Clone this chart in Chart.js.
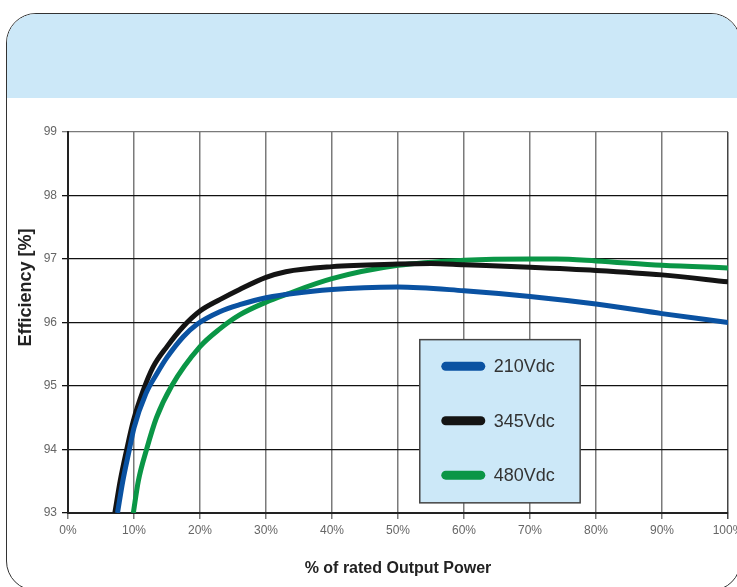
<!DOCTYPE html>
<html>
<head>
<meta charset="utf-8">
<script src="https://cdn.jsdelivr.net/npm/chart.js@4/dist/chart.umd.min.js"></script>
<style>
  html, body { margin: 0; padding: 0; width: 737px; height: 587px; overflow: hidden; background: #fff; }
  #frame {
    position: absolute; left: 6px; top: 13px; width: 735px; height: 578px;
    border: 1.5px solid #333; border-radius: 30px; overflow: hidden; box-sizing: border-box;
  }
  #band { height: 84px; background: #cce8f8; }
  #chart { position: absolute; left: 0; top: 0; }
</style>
</head>
<body>
<div id="frame"><div id="band"></div></div>
<canvas id="chart" width="760" height="587"></canvas>
<script>
// % of rated output power vs efficiency
const seriesLabels = ["210Vdc", "345Vdc", "480Vdc"];
const seriesColors = ["#0a52a2", "#141414", "#0a9646"];

const power210 = [7.5, 8.3, 9.3, 10, 11.8, 13.5, 15, 17.5, 19.5, 23, 26, 30, 40, 50, 60, 70, 80, 90, 100];
const eff210 = [93.0, 93.5, 94.0, 94.34, 94.88, 95.2, 95.45, 95.78, 95.97, 96.17, 96.28, 96.39, 96.52, 96.56, 96.5, 96.41, 96.29, 96.14, 96.0];

const power345 = [7.1, 7.9, 8.9, 9.9, 11.4, 12.9, 15, 17.5, 20, 23, 26, 30, 33, 40, 50, 55, 60, 70, 80, 90, 100];
const eff345 = [93.0, 93.5, 94.0, 94.45, 94.93, 95.3, 95.62, 95.94, 96.18, 96.36, 96.52, 96.71, 96.8, 96.88, 96.92, 96.93, 96.91, 96.87, 96.82, 96.75, 96.64];

const power480 = [9.9, 10.65, 11.9, 13.4, 15.7, 20, 23, 26, 30, 33, 40, 50, 60, 70, 74, 80, 90, 100];
const eff480 = [93.0, 93.5, 94.0, 94.5, 95.0, 95.62, 95.9, 96.12, 96.32, 96.44, 96.69, 96.9, 96.98, 97.0, 97.0, 96.97, 96.9, 96.86];

const xTicksMin = 0, xTicksMax = 100, xStep = 10;
const yTicksMin = 93, yTicksMax = 99, yStep = 1;

function toPoints(xs, ys) {
  return xs.map(function (x, i) {
    return { x: x, y: ys[i] };
  });
}

const allPower = [power210, power345, power480];
const allEff = [eff210, eff345, eff480];

const datasets = seriesLabels.map(function (label, i) {
  return {
    label: label,
    data: toPoints(allPower[i], allEff[i]),
    borderColor: seriesColors[i],
    backgroundColor: seriesColors[i],
    borderWidth: 5,
    pointRadius: 0,
    fill: false,
    cubicInterpolationMode: "monotone",
  };
});

// legend drawn as a box inside the plot, like the original
const boxLegend = {
  id: "boxLegend",
  afterDraw(chart) {
    const ctx = chart.ctx;
    const xs = chart.scales.x;
    const ys = chart.scales.y;
    const left = xs.getPixelForValue(53.3);
    const right = xs.getPixelForValue(77.6);
    const top = ys.getPixelForValue(95.73);
    const bottom = ys.getPixelForValue(93.16);
    ctx.save();
    ctx.fillStyle = "#cce8f8";
    ctx.fillRect(left, top, right - left, bottom - top);
    ctx.strokeStyle = "#444";
    ctx.lineWidth = 1.5;
    ctx.strokeRect(left, top, right - left, bottom - top);
    const rowGap = (bottom - top) / 3;
    chart.data.datasets.forEach(function (ds, i) {
      const cy = top + rowGap * (i + 0.5) - 0.5;
      ctx.beginPath();
      ctx.lineCap = "round";
      ctx.lineWidth = 9;
      ctx.strokeStyle = ds.borderColor;
      ctx.moveTo(left + 26, cy);
      ctx.lineTo(left + 61, cy);
      ctx.stroke();
      ctx.fillStyle = "#333";
      ctx.font = "18px 'Liberation Sans', Arial, sans-serif";
      ctx.textBaseline = "middle";
      ctx.textAlign = "left";
      ctx.fillText(ds.label, left + 74, cy + 1);
    });
    ctx.restore();
  },
};

const chart = new Chart(document.getElementById("chart"), {
  type: "line",
  data: { datasets: datasets },
  plugins: [boxLegend],
  options: {
    responsive: false,
    animation: false,
    layout: { padding: { top: 132, left: 0, right: 32, bottom: 0 } },
    plugins: {
      legend: { display: false },
      tooltip: { enabled: false },
    },
    scales: {
      x: {
        type: "linear",
        min: xTicksMin,
        max: xTicksMax,
        afterFit: function (scale) {
          scale.height = 74;
        },
        ticks: {
          stepSize: xStep,
          padding: 4,
          color: "#666",
          font: { family: "'Liberation Sans', Arial, sans-serif", size: 12 },
          callback: function (v) {
            return v + "%";
          },
          maxRotation: 0,
        },
        grid: {
          color: function (c) {
            return c.tick && c.tick.value === xTicksMax ? "#444" : "#7a7a7a";
          },
          lineWidth: 1.5,
          tickLength: 6,
        },
        border: { color: "#222", width: 2 },
        title: {
          display: true,
          text: "% of rated Output Power",
          color: "#222",
          font: { family: "'Liberation Sans', Arial, sans-serif", size: 16, weight: "bold" },
          padding: { top: 0, bottom: 9 },
        },
      },
      y: {
        type: "linear",
        min: yTicksMin,
        max: yTicksMax,
        afterFit: function (scale) {
          scale.width = 68;
        },
        ticks: {
          stepSize: yStep,
          padding: 5,
          color: "#666",
          font: { family: "'Liberation Sans', Arial, sans-serif", size: 12 },
        },
        grid: {
          color: function (c) {
            return c.tick && c.tick.value === yTicksMax ? "#7a7a7a" : "#111";
          },
          lineWidth: 1.3,
          tickLength: 6,
        },
        border: { color: "#222", width: 2 },
        title: {
          display: true,
          text: "              Efficiency [%]",
          color: "#222",
          font: { family: "'Liberation Sans', Arial, sans-serif", size: 18, weight: "bold" },
          padding: { top: 15, bottom: 0 },
        },
      },
    },
  },
});
</script>
</body>
</html>
